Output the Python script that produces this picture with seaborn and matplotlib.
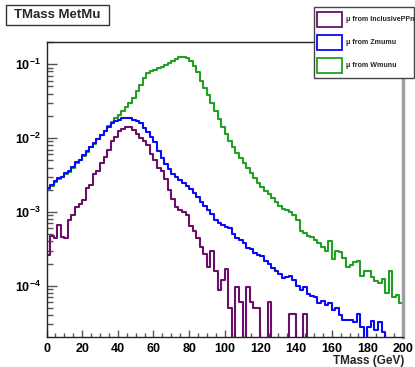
import numpy as np
import pandas as pd
import matplotlib
matplotlib.use("Agg")
import matplotlib.pyplot as plt
import seaborn as sns
from matplotlib.ticker import MultipleLocator, LogLocator, FuncFormatter, NullFormatter
from matplotlib.patches import Rectangle

# ---------------- data (2 GeV bins, 0..200 GeV) ----------------
bin_lo, bin_hi, bin_w = 0, 200, 2

inclusive_ppmu = [
    2.6e-4, 4.8e-4, 4.5e-4, 6.6e-4, 4.6e-4, 4.5e-4, 7.8e-4, 9.0e-4, 1.17e-3, 1.3e-3,
    1.44e-3, 2.1e-3, 2.3e-3, 3.3e-3, 3.6e-3, 4.6e-3, 5.6e-3, 7.0e-3, 9.0e-3, 1.05e-2,
    1.25e-2, 1.33e-2, 1.42e-2, 1.40e-2, 1.30e-2, 1.15e-2, 1.0e-2, 9.0e-3, 8.0e-3, 6.0e-3,
    5.0e-3, 4.0e-3, 3.6e-3, 2.8e-3, 2.0e-3, 1.5e-3, 1.15e-3, 1.05e-3, 1.0e-3, 9.0e-4,
    6.5e-4, 5.5e-4, 4.5e-4, 3.4e-4, 2.7e-4, 1.8e-4, 3.0e-4, 1.6e-4, 8.7e-5, 1.2e-4,
    1.7e-4, 5.0e-5, 0, 9.5e-5, 6.0e-5, 0, 9.5e-5, 6.0e-5, 5.0e-5, 5.0e-5,
    0, 0, 6.0e-5, 0, 0, 0, 0, 0, 4.2e-5, 4.2e-5,
    0, 0, 4.2e-5, 0, 0, 0, 0, 0, 0, 0,
    0, 0, 0, 0, 0, 0, 0, 0, 0, 0,
    0, 0, 0, 0, 0, 0, 0, 0, 0, 0,
]

zmumu = [
    2.1e-3, 2.3e-3, 2.6e-3, 2.9e-3, 3.0e-3, 3.4e-3, 3.6e-3, 4.1e-3, 4.7e-3, 5.1e-3,
    5.9e-3, 6.6e-3, 7.6e-3, 8.5e-3, 9.8e-3, 1.10e-2, 1.26e-2, 1.41e-2, 1.58e-2, 1.70e-2,
    1.78e-2, 1.86e-2, 1.90e-2, 1.86e-2, 1.78e-2, 1.70e-2, 1.58e-2, 1.38e-2, 1.20e-2, 1.05e-2,
    8.9e-3, 6.6e-3, 5.4e-3, 4.5e-3, 3.8e-3, 3.3e-3, 2.95e-3, 2.7e-3, 2.45e-3, 2.24e-3,
    2.04e-3, 1.82e-3, 1.58e-3, 1.38e-3, 1.20e-3, 1.07e-3, 9.5e-4, 7.9e-4, 7.1e-4, 6.6e-4,
    6.3e-4, 6.0e-4, 5.0e-4, 4.4e-4, 4.2e-4, 3.8e-4, 3.3e-4, 3.16e-4, 2.8e-4, 2.6e-4,
    2.5e-4, 2.2e-4, 2.0e-4, 1.74e-4, 1.58e-4, 1.45e-4, 1.26e-4, 1.32e-4, 1.38e-4, 1.20e-4,
    1.0e-4, 8.7e-5, 9.5e-5, 7.8e-5, 7.2e-5, 7.1e-5, 5.8e-5, 6.3e-5, 5.5e-5, 5.8e-5,
    4.7e-5, 5.0e-5, 4.0e-5, 3.5e-5, 3.4e-5, 3.5e-5, 3.2e-5, 4.2e-5, 2.75e-5, 0,
    2.8e-5, 3.3e-5, 2.5e-5, 3.2e-5, 2.4e-5, 0, 0, 0, 0, 0,
]

wmunu = [
    2.05e-3, 2.25e-3, 2.55e-3, 2.8e-3, 2.95e-3, 3.3e-3, 3.5e-3, 4.0e-3, 4.6e-3, 5.0e-3,
    5.8e-3, 6.5e-3, 7.5e-3, 8.4e-3, 9.7e-3, 1.09e-2, 1.25e-2, 1.45e-2, 1.65e-2, 1.85e-2,
    2.05e-2, 2.3e-2, 2.65e-2, 3.0e-2, 3.5e-2, 4.3e-2, 5.2e-2, 6.5e-2, 7.6e-2, 8.1e-2,
    8.4e-2, 8.8e-2, 9.3e-2, 9.9e-2, 1.05e-1, 1.12e-1, 1.18e-1, 1.25e-1, 1.26e-1, 1.20e-1,
    1.10e-1, 9.5e-2, 7.8e-2, 6.0e-2, 4.8e-2, 3.8e-2, 3.0e-2, 2.3e-2, 1.8e-2, 1.4e-2,
    1.12e-2, 9.2e-3, 7.6e-3, 6.3e-3, 5.4e-3, 4.6e-3, 3.9e-3, 3.4e-3, 2.9e-3, 2.5e-3,
    2.2e-3, 1.95e-3, 1.75e-3, 1.55e-3, 1.35e-3, 1.2e-3, 1.1e-3, 1.05e-3, 1.0e-3, 9.0e-4,
    7.8e-4, 5.5e-4, 5.2e-4, 4.8e-4, 4.6e-4, 4.2e-4, 3.8e-4, 3.4e-4, 3.0e-4, 4.1e-4,
    2.3e-4, 3.0e-4, 2.9e-4, 2.4e-4, 1.8e-4, 1.9e-4, 2.1e-4, 2.2e-4, 1.35e-4, 1.6e-4,
    1.6e-4, 1.3e-4, 1.15e-4, 1.1e-4, 1.25e-4, 8.0e-5, 1.6e-4, 7.0e-5, 7.5e-5, 5.8e-5,
]

series_names = ["\u03bc from InclusivePPmu", "\u03bc from Zmumu", "\u03bc from Wmunu"]
series_colors = ["#6a0f6a", "#0a0af5", "#22a022"]
title_text = "TMass MetMu"
x_label = "TMass (GeV)"
x_ticks = [0, 20, 40, 60, 80, 100, 120, 140, 160, 180, 200]

# ---------------- style ----------------
sns.set_style("white")
plt.rcParams["font.family"] = ["Liberation Sans", "DejaVu Sans"]
plt.rcParams["font.weight"] = "bold"
plt.rcParams["mathtext.fontset"] = "custom"
plt.rcParams["mathtext.rm"] = "Liberation Sans:bold"
plt.rcParams["mathtext.bf"] = "Liberation Sans:bold"

W, H = 415, 367
fig = plt.figure(figsize=(W / 100, H / 100), dpi=100, facecolor="white")
L, R, T, B = 46.5, 403, 42, 337
ax = fig.add_axes([L / W, 1 - B / H, (R - L) / W, (B - T) / H])
ax.set_facecolor("white")

n_bins = len(wmunu)
centers = bin_lo + bin_w * (np.arange(n_bins) + 0.5)
df = pd.DataFrame({"x": centers, "incl": inclusive_ppmu, "z": zmumu, "w": wmunu})

# draw order: green, blue, purple
for col, color in [("w", series_colors[2]), ("z", series_colors[1]), ("incl", series_colors[0])]:
    sns.histplot(data=df, x="x", weights=col, binwidth=bin_w, binrange=(bin_lo, bin_hi),
                 element="step", fill=False, color=color, linewidth=1.5, ax=ax)

ax.set_yscale("log")
ax.set_xlim(0, 200)
ax.set_ylim(2.03e-5, 0.2)
ax.set_xlabel("")
ax.set_ylabel("")

# spines
for s in ["left", "bottom", "top"]:
    ax.spines[s].set_color("#222222")
    ax.spines[s].set_linewidth(1.0)
ax.spines["right"].set_color("#a0a0a0")
ax.spines["right"].set_linewidth(2.5)

ax.xaxis.set_major_locator(plt.FixedLocator(x_ticks))
ax.xaxis.set_minor_locator(MultipleLocator(5))
ax.yaxis.set_major_locator(LogLocator(base=10))
ax.yaxis.set_minor_locator(LogLocator(base=10, subs=np.arange(2, 10), numticks=20))
ax.yaxis.set_minor_formatter(NullFormatter())
ax.yaxis.set_major_formatter(FuncFormatter(lambda v, p: r"$\mathbf{10^{%d}}$" % int(round(np.log10(v)))))

ax.tick_params(axis="both", which="both", direction="in", top=False, right=False,
               left=True, bottom=True,
               color="#555555", width=1.0, labelsize=9, labelcolor="black")
ax.tick_params(axis="x", which="major", length=5, pad=4)
ax.tick_params(axis="x", which="minor", length=2.8)
ax.tick_params(axis="y", which="major", length=7.5, pad=4)
ax.tick_params(axis="y", which="minor", length=4.5)

fig.text(404 / W, 1 - 361 / H, x_label, ha="right", va="center", fontsize=8.5, fontweight="bold")

# title box
def px_rect(x0, y0, x1, y1, **kw):
    return Rectangle((x0 / W, 1 - y1 / H), (x1 - x0) / W, (y1 - y0) / H,
                     transform=fig.transFigure, **kw)

fig.add_artist(px_rect(6, 5, 109, 24.5, facecolor="white", edgecolor="#333333", linewidth=1.0))
fig.text(57.5 / W, 1 - 14.8 / H, title_text, ha="center", va="center", fontsize=9.5, fontweight="bold")

# legend box
fig.add_artist(px_rect(314, 6.5, 414, 78.3, facecolor="white", edgecolor="#444444", linewidth=1.0))
rows = [(11.7, 26.7), (35, 50), (58.3, 73.3)]
for (y0, y1), name, color in zip(rows, series_names, series_colors):
    fig.add_artist(px_rect(317.3, y0, 341.7, y1, facecolor="white", edgecolor=color, linewidth=1.3))
    fig.text(346 / W, 1 - (y0 + y1) / 2 / H, name, ha="left", va="center", fontsize=5.1,
             fontweight="bold")

fig.savefig("out.png", dpi=100, facecolor="white")
